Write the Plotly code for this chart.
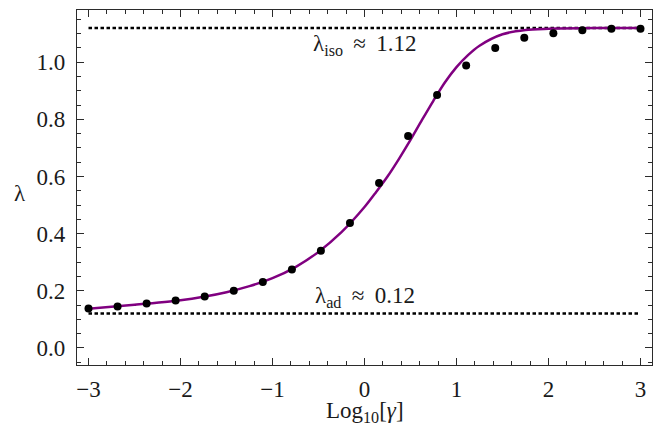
import plotly.graph_objects as go

# Data points (numerical results)
x_points = [-3.0, -2.684, -2.368, -2.053, -1.737, -1.421, -1.105, -0.789, -0.474, -0.158,
            0.158, 0.474, 0.789, 1.105, 1.421, 1.737, 2.053, 2.368, 2.684, 3.0]
y_points = [0.138, 0.145, 0.155, 0.166, 0.180, 0.200, 0.231, 0.274, 0.340, 0.437,
            0.577, 0.742, 0.885, 0.989, 1.050, 1.086, 1.102, 1.112, 1.117, 1.117]

# Fitted curve samples
x_curve = [-3.0, -2.5, -2.0, -1.75, -1.5, -1.25, -1.0, -0.75, -0.5, -0.25, 0.0, 0.125, 0.25,
           0.375, 0.5, 0.625, 0.75, 0.875, 1.0, 1.125, 1.25, 1.5, 1.75, 2.0, 2.5, 3.0]
y_curve = [0.137, 0.151, 0.167, 0.179, 0.195, 0.216, 0.244, 0.283, 0.336, 0.405, 0.493, 0.545, 0.600,
           0.662, 0.728, 0.798, 0.866, 0.930, 0.983, 1.025, 1.058, 1.098, 1.113, 1.117, 1.120, 1.120]

# Reference levels
lambda_iso = 1.12
lambda_ad = 0.12
x_span = [-3.0, 3.0]

x_ticks = [-3, -2, -1, 0, 1, 2, 3]
x_ticktext = ["\u22123", "\u22122", "\u22121", "0", "1", "2", "3"]
y_ticks = [0.0, 0.2, 0.4, 0.6, 0.8, 1.0]
y_ticktext = ["0.0", "0.2", "0.4", "0.6", "0.8", "1.0"]

FONT = "Liberation Serif, Times New Roman, serif"
FRAME = "#2b2b2b"
TXT = "#1a1a1a"
FS = 23

fig = go.Figure()
fig.add_trace(go.Scatter(x=x_span, y=[lambda_iso, lambda_iso], mode="lines",
                         line=dict(color="black", width=2.5, dash="3.5px,2.5px"),
                         hoverinfo="skip", showlegend=False))
fig.add_trace(go.Scatter(x=x_span, y=[lambda_ad, lambda_ad], mode="lines",
                         line=dict(color="black", width=2.5, dash="3.5px,2.5px"),
                         hoverinfo="skip", showlegend=False))
fig.add_trace(go.Scatter(x=x_curve, y=y_curve, mode="lines",
                         line=dict(color="#800080", width=2.5, shape="spline", smoothing=0.8),
                         showlegend=False))
fig.add_trace(go.Scatter(x=x_points, y=y_points, mode="markers",
                         marker=dict(color="black", size=8),
                         showlegend=False))

axis_common = dict(
    showgrid=False, zeroline=False, showline=True, linecolor=FRAME, linewidth=1.2,
    mirror="ticks", ticks="inside", ticklen=7, tickwidth=1, tickcolor=FRAME,
    tickfont=dict(family=FONT, size=FS, color=TXT),
)

fig.update_xaxes(range=[-3.125, 3.125], tickvals=x_ticks, ticktext=x_ticktext,
                 ticklabelstandoff=3,
                 minor=dict(dtick=0.2, tick0=0, ticks="inside", ticklen=4, tickcolor=FRAME, tickwidth=1),
                 **axis_common)
fig.update_yaxes(range=[-0.06, 1.183], tickvals=y_ticks, ticktext=y_ticktext,
                 ticklabelstandoff=6,
                 minor=dict(dtick=0.05, tick0=0, ticks="inside", ticklen=4, tickcolor=FRAME, tickwidth=1),
                 **axis_common)

fig.add_annotation(x=0, y=lambda_iso, xref="x", yref="y", yanchor="top", yshift=-1,
                   text="\u03bb<sub>iso</sub> \u2009\u2248\u2009 1.12", showarrow=False,
                   font=dict(family=FONT, size=FS, color=TXT))
fig.add_annotation(x=0, y=lambda_ad, xref="x", yref="y", yanchor="bottom", yshift=1,
                   text="\u03bb<sub>ad</sub> \u2009\u2248\u2009 0.12", showarrow=False,
                   font=dict(family=FONT, size=FS, color=TXT))
fig.add_annotation(x=0.5, y=-0.133, xref="paper", yref="paper", xanchor="center", yanchor="middle",
                   text="Log<sub>10</sub>[<i>\u03b3</i>]", showarrow=False,
                   font=dict(family=FONT, size=FS, color=TXT))
fig.add_annotation(x=-0.099, y=0.4845, xref="paper", yref="paper", xanchor="center", yanchor="middle",
                   text="\u03bb", showarrow=False,
                   font=dict(family=FONT, size=FS, color=TXT))

fig.update_layout(width=659, height=433, margin=dict(l=77, r=7, t=10, b=68),
                  paper_bgcolor="white", plot_bgcolor="white",
                  font=dict(family=FONT, size=FS, color=TXT))

fig.write_html("out.html", config={"displayModeBar": False},
               post_script="document.body.style.margin='0';document.body.style.overflow='hidden';")
